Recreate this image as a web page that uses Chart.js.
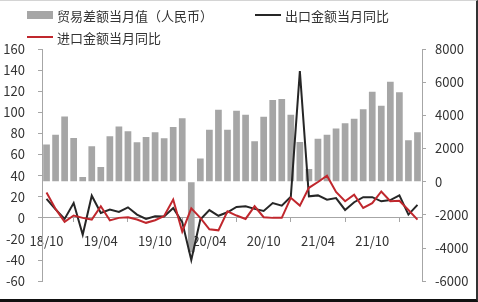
<!DOCTYPE html>
<html>
<head>
<meta charset="utf-8">
<script src="https://cdn.jsdelivr.net/npm/chart.js@4.4.0/dist/chart.umd.min.js"></script>
<style>
    html, body { margin: 0; padding: 0; background: #fff; }
    #wrap { position: relative; width: 478px; height: 302px; }
    #frame { position: absolute; left: 0; top: 0; width: 478px; height: 302px; box-sizing: border-box;
             border-top: 1px solid #d4d4d4; border-right: 2px solid #333; border-bottom: 3px solid #111; pointer-events: none; }
</style>
</head>
<body>
<div id="wrap">
    <canvas id="tradeChart" width="478" height="302"></canvas>
    <div id="frame"></div>
</div>
<script>
// months 2018/10 - 2022/03
const months = [
    '18/10', '18/11', '18/12', '19/01', '19/02', '19/03', '19/04', '19/05', '19/06', '19/07',
    '19/08', '19/09', '19/10', '19/11', '19/12', '20/01', '20/02', '20/03', '20/04', '20/05',
    '20/06', '20/07', '20/08', '20/09', '20/10', '20/11', '20/12', '21/01', '21/02', '21/03',
    '21/04', '21/05', '21/06', '21/07', '21/08', '21/09', '21/10', '21/11', '21/12', '22/01',
    '22/02', '22/03'
];

// 贸易差额当月值 (亿元), right axis
const tradeBalance = [
    2240, 2835, 3930, 2640, 290, 2140, 885, 2735, 3330, 3035,
    2375, 2700, 2975, 2615, 3295, 3830, -4250, 1400, 3135, 4330,
    3135, 4270, 4030, 2440, 3910, 4925, 4985, 4030, 2400, 760,
    2595, 2835, 3210, 3530, 3790, 4370, 5420, 4585, 6020, 5385,
    2495, 2975
];

// 出口金额当月同比 (%), left axis
const exportYoY = [
    18, 8, -1, 14, -16, 21, 4.7, 7.8, 5.6, 10,
    3.1, -1, 1.6, 1.3, 9.4, -4, -40, -1.6, 7.4, 2,
    5.3, 10.3, 11, 8.5, 6.6, 14, 11.6, 20, 139, 20.4,
    21.3, 17.2, 18.8, 7.5, 14.8, 19.6, 19.6, 15.7, 16.9, 21.3,
    3.1, 12.3
];

// 进口金额当月同比 (%), left axis
const importYoY = [
    24, 8.5, -3.8, 2.2, 0, -1.6, 11, -2.4, 0, 0.6,
    -1.6, -4.7, -2.2, 1.7, 17.4, -13, 9, 0, -10.8, -11.8,
    6.2, 2.2, -1, 11, 0.6, 0, 0, 19, 11.6, 28.5,
    34, 40, 24.5, 15.7, 22, 9.4, 14, 25, 15.7, 16.2,
    7.5, -1.6
];

const seriesNames = ['贸易差额当月值（人民币）', '出口金额当月同比', '进口金额当月同比'];

const textColor = '#333';
const axisColor = '#a6a6a6';
const fontFamily = '"Noto Sans CJK SC", "Liberation Sans", sans-serif';

// legend drawn by hand so it can sit where the original has it
const legendPlugin = {
    id: 'manualLegend',
    afterDraw(chart) {
        const ctx = chart.ctx;
        const spots = [
            { ds: 0, x: 27, y: 15 },
            { ds: 1, x: 255, y: 15 },
            { ds: 2, x: 27, y: 37 }
        ];
        ctx.save();
        ctx.font = '13px ' + fontFamily;
        ctx.textBaseline = 'middle';
        spots.forEach(s => {
            const ds = chart.data.datasets[s.ds];
            if (ds.type === 'bar') {
                ctx.fillStyle = ds.backgroundColor;
                ctx.fillRect(s.x, s.y - 4, 26, 8);
            } else {
                ctx.strokeStyle = ds.borderColor;
                ctx.lineWidth = 2;
                ctx.beginPath();
                ctx.moveTo(s.x, s.y);
                ctx.lineTo(s.x + 26, s.y);
                ctx.stroke();
            }
            ctx.fillStyle = textColor;
            ctx.fillText(ds.label, s.x + 30, s.y + 1);
        });
        ctx.restore();
    }
};

const ctx = document.getElementById('tradeChart').getContext('2d');
const tradeChart = new Chart(ctx, {
    data: {
        labels: months,
        datasets: [{
            type: 'bar',
            label: seriesNames[0],
            data: tradeBalance,
            yAxisID: 'y1',
            backgroundColor: '#a6a6a6',
            barPercentage: 0.74,
            categoryPercentage: 1,
            order: 3
        }, {
            type: 'line',
            label: seriesNames[1],
            data: exportYoY,
            yAxisID: 'y',
            borderColor: '#262626',
            borderWidth: 2,
            pointRadius: 0,
            tension: 0,
            order: 2
        }, {
            type: 'line',
            label: seriesNames[2],
            data: importYoY,
            yAxisID: 'y',
            borderColor: '#c0272d',
            borderWidth: 2,
            pointRadius: 0,
            tension: 0,
            order: 1
        }]
    },
    options: {
        responsive: false,
        animation: false,
        layout: {
            padding: { top: 49, left: 0, right: 0, bottom: 19 }
        },
        plugins: {
            legend: { display: false },
            tooltip: { enabled: false }
        },
        scales: {
            x: {
                position: { y: 0 },
                offset: true,
                grid: {
                    offset: true,
                    drawOnChartArea: false,
                    tickLength: 4,
                    color: axisColor
                },
                border: { color: axisColor },
                ticks: {
                    autoSkip: false,
                    maxRotation: 0,
                    padding: 11,
                    color: textColor,
                    font: { size: 13, family: fontFamily },
                    callback: (value, index) => index % 6 === 0 ? months[index] : null
                },
                // the first label may hang over the left axis, as in the original
                afterFit: (scale) => {
                    scale.paddingLeft = 0;
                    scale.paddingRight = 0;
                }
            },
            y: {
                position: 'left',
                min: -60,
                max: 160,
                grid: { drawOnChartArea: false, tickLength: 4, color: axisColor },
                border: { color: axisColor },
                ticks: {
                    stepSize: 20,
                    padding: 13,
                    color: textColor,
                    font: { size: 13, family: fontFamily }
                },
                afterFit: (scale) => { scale.width = 42; }
            },
            y1: {
                position: 'right',
                min: -6000,
                max: 8000,
                grid: { drawOnChartArea: false, tickLength: 4, color: axisColor },
                border: { color: axisColor },
                ticks: {
                    stepSize: 2000,
                    padding: 9,
                    color: textColor,
                    font: { size: 13, family: fontFamily },
                    callback: (value) => String(value)
                },
                afterFit: (scale) => { scale.width = 56; }
            }
        }
    },
    plugins: [legendPlugin]
});
</script>
</body>
</html>
